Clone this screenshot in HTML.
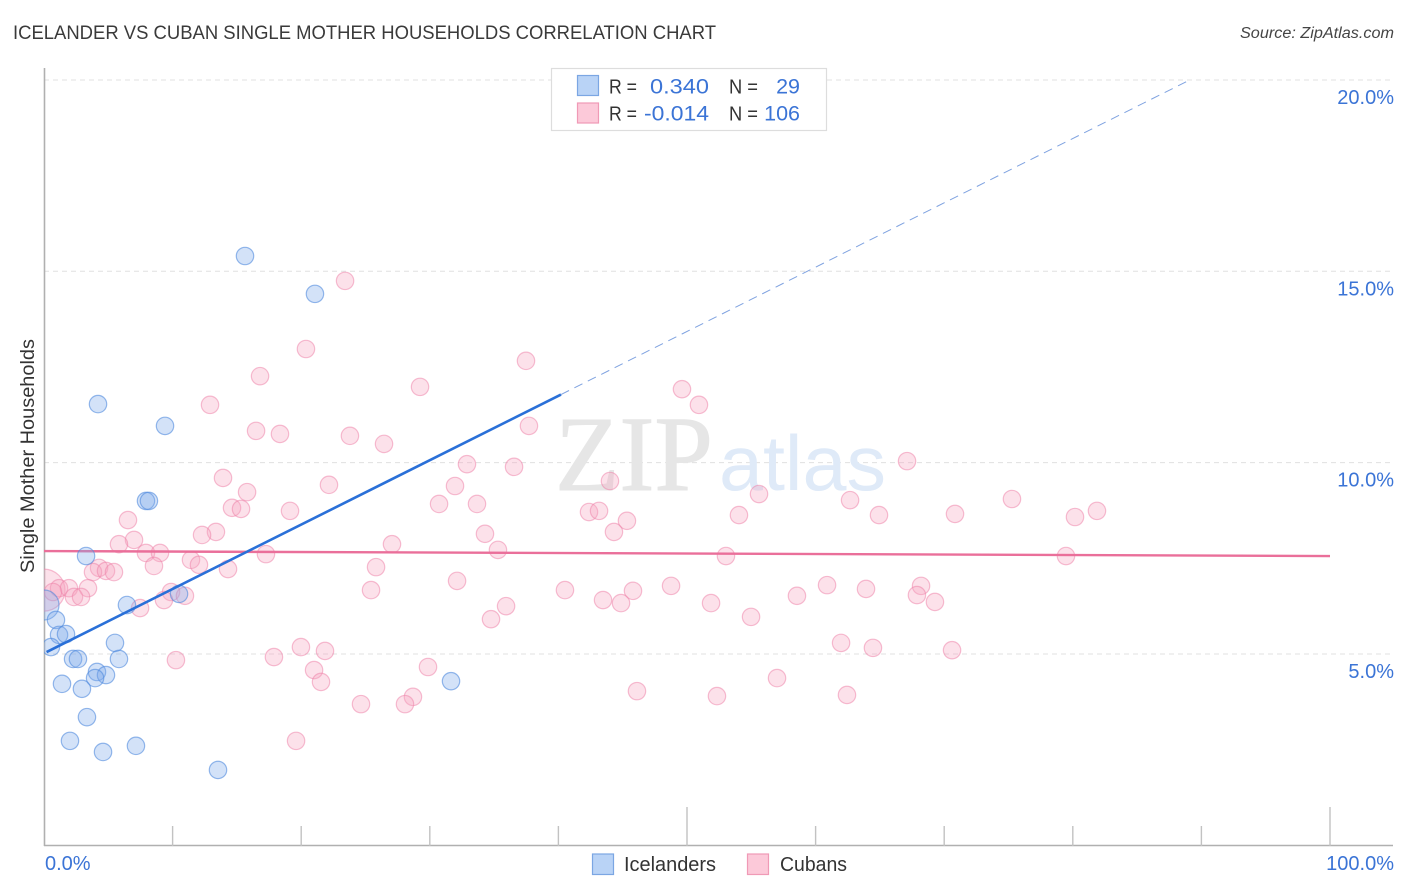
<!DOCTYPE html>
<html lang="en">
<head>
<meta charset="utf-8">
<title>Icelander vs Cuban Single Mother Households Correlation Chart</title>
<style>
html,body{margin:0;padding:0;background:#fff;}
body{width:1406px;height:892px;overflow:hidden;}
svg{display:block;}
text{font-family:"Liberation Sans",sans-serif;}
</style>
</head>
<body>
<svg id="chart" xmlns="http://www.w3.org/2000/svg" width="1406" height="892" viewBox="0 0 1406 892">
  <defs><clipPath id="plot-clip"><rect x="44" y="60" width="1349" height="786"/></clipPath></defs>
  <rect width="1406" height="892" fill="#fff"/>
  <text x="13" y="39" font-size="19" fill="#3a3a3a" textLength="703" lengthAdjust="spacingAndGlyphs">ICELANDER VS CUBAN SINGLE MOTHER HOUSEHOLDS CORRELATION CHART</text>
  <text x="1394" y="38" font-size="15.5" font-style="italic" fill="#444" text-anchor="end" textLength="154" lengthAdjust="spacingAndGlyphs">Source: ZipAtlas.com</text>
  <text transform="translate(34 573) rotate(-90)" font-size="19" fill="#333" textLength="234" lengthAdjust="spacingAndGlyphs">Single Mother Households</text>

  <g id="grid-layer"></g>
  <g>
    <text x="555" y="490" font-size="107" fill="#e6e6e6" stroke="#e6e6e6" stroke-width="1" style="font-family:'Liberation Serif',serif" textLength="158" lengthAdjust="spacingAndGlyphs">ZIP</text>
    <text x="719" y="490" font-size="78" fill="#dfeaf8" textLength="167" lengthAdjust="spacingAndGlyphs">atlas</text>
  </g>
  <g id="axis-layer"></g>
  <g id="marks-layer" clip-path="url(#plot-clip)"></g>
  <g id="label-layer"></g>

  <g>
    <rect x="551.5" y="68.5" width="275" height="62" fill="#fff" stroke="#ddd" stroke-width="1.2"/>
    <rect x="577.5" y="75.5" width="21" height="20" fill="#b9d3f6" stroke="#7ba6e3" stroke-width="1.2"/>
    <rect x="577.5" y="103" width="21" height="20" fill="#fcc9d9" stroke="#f09ab6" stroke-width="1.2"/>
    <text x="609" y="93.5" font-size="20" fill="#333" textLength="28" lengthAdjust="spacingAndGlyphs">R =</text>
    <text x="650" y="93.5" font-size="21.5" fill="#3b74d6" textLength="59" lengthAdjust="spacingAndGlyphs">0.340</text>
    <text x="729" y="93.5" font-size="20" fill="#333" textLength="29" lengthAdjust="spacingAndGlyphs">N =</text>
    <text x="800" y="93.5" font-size="21.5" fill="#3b74d6" text-anchor="end">29</text>
    <text x="609" y="120.5" font-size="20" fill="#333" textLength="28" lengthAdjust="spacingAndGlyphs">R =</text>
    <text x="644" y="120.5" font-size="21.5" fill="#3b74d6" textLength="65" lengthAdjust="spacingAndGlyphs">-0.014</text>
    <text x="729" y="120.5" font-size="20" fill="#333" textLength="29" lengthAdjust="spacingAndGlyphs">N =</text>
    <text x="800" y="120.5" font-size="21.5" fill="#3b74d6" text-anchor="end">106</text>
  </g>

  <g>
    <rect x="592.5" y="854" width="21" height="20.5" fill="#b9d3f6" stroke="#7ba6e3" stroke-width="1.2"/>
    <text x="624" y="871" font-size="20" fill="#333" textLength="92" lengthAdjust="spacingAndGlyphs">Icelanders</text>
    <rect x="747.5" y="854" width="21" height="20.5" fill="#fcc9d9" stroke="#f09ab6" stroke-width="1.2"/>
    <text x="780" y="871" font-size="20" fill="#333" textLength="67" lengthAdjust="spacingAndGlyphs">Cubans</text>
  </g>
</svg>
<script>
const icelanderX = [15.63,21.07,4.20,9.41,7.93,8.16,3.27,0.93,1.17,1.71,0.54,5.52,2.26,2.64,5.83,4.12,4.82,3.97,1.40,2.95,3.34,2.02,4.59,7.15,13.53,31.65,6.45,10.50];
const icelanderY = [15.40,14.41,11.53,10.96,9.00,9.00,7.56,5.89,5.50,5.52,5.18,5.29,4.87,4.87,4.87,4.53,4.45,4.37,4.22,4.09,3.35,2.73,2.44,2.60,1.97,4.29,6.28,6.57];
const icelanderLargeX = [0];
const icelanderLargeY = [6.28];
const cubanX = [23.41,20.37,37.48,16.80,29.24,49.61,12.91,50.93,37.71,16.49,18.35,23.79,26.44,32.89,36.55,67.11,13.92,44.01,22.16,31.96,15.79,55.60,62.68,75.27,30.72,33.67,14.62,15.32,19.13,42.38,43.16,64.93,54.04,70.84,81.88,80.17,45.33,6.53,44.32,34.29,13.37,12.29,7.00,5.83,27.06,7.93,9.02,35.30,17.26,53.03,79.47,11.43,12.05,8.55,25.82,14.31,4.28,3.81,4.82,5.44,32.12,48.76,60.89,68.20,63.92,40.51,45.80,25.43,1.17,1.94,3.42,58.55,67.88,0.70,2.33,2.88,9.88,10.96,9.33,7.47,43.47,44.87,51.87,69.28,35.93,34.76,54.98,61.98,64.46,70.61,19.98,21.85,10.26,17.88,21.00,29.86,21.54,46.11,52.33,57.00,62.44,24.65,28.69,28.07,19.60];
const cubanY = [14.75,12.97,12.66,12.26,11.98,11.92,11.51,11.51,10.96,10.83,10.75,10.70,10.49,9.96,9.89,10.04,9.60,9.52,9.42,9.39,9.23,9.18,9.02,9.05,8.92,8.92,8.82,8.79,8.74,8.71,8.74,8.63,8.63,8.66,8.74,8.58,8.48,8.50,8.19,8.14,8.19,8.11,7.98,7.87,7.87,7.64,7.64,7.72,7.61,7.56,7.56,7.46,7.33,7.30,7.27,7.22,7.25,7.14,7.17,7.14,6.91,6.78,6.80,6.78,6.70,6.67,6.65,6.67,6.72,6.72,6.72,6.52,6.54,6.62,6.49,6.49,6.62,6.52,6.41,6.20,6.41,6.33,6.33,6.36,6.25,5.91,5.97,5.29,5.16,5.10,5.18,5.08,4.84,4.92,4.58,4.66,4.27,4.03,3.90,4.37,3.93,3.69,3.88,3.69,2.73];
const cubanLargeX = [0];
const cubanLargeY = [6.67];
const icelanderTrendX = [0.2,40.2];
const icelanderTrendY = [5.05,11.78];
const icelanderProjectionX = [40.2,89.1];
const icelanderProjectionY = [11.78,20];
const cubanTrendX = [0,100];
const cubanTrendY = [7.69,7.56];
const xMinorTicks = [10,20,30,40,60,70,80,90];
const xMajorTicks = [50,100];
const yGridValues = [5,10,15,20];
const yTickLabels = ['5.0%','10.0%','15.0%','20.0%'];
const xTickValues = [0,100];
const xTickLabels = ['0.0%','100.0%'];

const NS = 'http://www.w3.org/2000/svg';
function xScale(v){ return 44 + v * 12.86; }
function yScale(v){ return 654 - (v - 5) * 38.27; }
function make(parent, tag, attrs){
  const el = document.createElementNS(NS, tag);
  for (const k in attrs) el.setAttribute(k, attrs[k]);
  parent.appendChild(el);
  return el;
}

const gridLayer = document.getElementById('grid-layer');
const axisLayer = document.getElementById('axis-layer');
const marksLayer = document.getElementById('marks-layer');
const labelLayer = document.getElementById('label-layer');

yGridValues.forEach(function(v){
  const el = make(gridLayer, 'line', {x1:44, x2:1393, y1:yScale(v), y2:yScale(v), stroke:'#e0e0e0', 'stroke-width':1, 'stroke-dasharray':'5 4'});
  
  
});

const yAxis = make(axisLayer, 'line', {x1:44.5, x2:44.5, y1:68, y2:846, stroke:'#b0b0b0', 'stroke-width':1.6});


const xAxis = make(axisLayer, 'line', {x1:44, x2:1393, y1:845.5, y2:845.5, stroke:'#b0b0b0', 'stroke-width':1.6});



xMinorTicks.forEach(function(v){
  const el = make(axisLayer, 'line', {x1:xScale(v), x2:xScale(v), y1:826, y2:846, stroke:'#c2c2c2', 'stroke-width':1.4});
  
  
});
xMajorTicks.forEach(function(v){
  const el = make(axisLayer, 'line', {x1:xScale(v), x2:xScale(v), y1:807, y2:846, stroke:'#c2c2c2', 'stroke-width':1.4});
  
  
});

function addCircle(x, y, r, fill, stroke, name){
  const c = make(marksLayer, 'circle', {cx:xScale(x), cy:yScale(y), r:r, fill:fill, stroke:stroke, 'stroke-width':1.2});
  
  
}
const cubanFill = 'rgba(246,165,192,0.33)';
const cubanStroke = 'rgba(238,130,168,0.52)';
const icelanderFill = 'rgba(125,170,235,0.34)';
const icelanderStroke = 'rgba(80,138,222,0.6)';

cubanLargeX.forEach(function(v, i){
  addCircle(v, cubanLargeY[i], 21, cubanFill, cubanStroke, 'point-cuban-large');
});
cubanX.forEach(function(v, i){
  addCircle(v, cubanY[i], 8.7, cubanFill, cubanStroke, 'point-cuban');
});

const cubanLine = make(marksLayer, 'line', {x1:xScale(cubanTrendX[0]), y1:yScale(cubanTrendY[0]), x2:xScale(cubanTrendX[1]), y2:yScale(cubanTrendY[1]), stroke:'#ea6f9a', 'stroke-width':2.4});



icelanderLargeX.forEach(function(v, i){
  addCircle(v, icelanderLargeY[i], 15, icelanderFill, icelanderStroke, 'point-icelander-large');
});
icelanderX.forEach(function(v, i){
  addCircle(v, icelanderY[i], 8.7, icelanderFill, icelanderStroke, 'point-icelander');
});

const blueLine = make(marksLayer, 'line', {x1:xScale(icelanderTrendX[0]), y1:yScale(icelanderTrendY[0]), x2:xScale(icelanderTrendX[1]), y2:yScale(icelanderTrendY[1]), stroke:'#2a70d8', 'stroke-width':2.6});


const blueDash = make(marksLayer, 'line', {x1:xScale(icelanderProjectionX[0]), y1:yScale(icelanderProjectionY[0]), x2:xScale(icelanderProjectionX[1]), y2:yScale(icelanderProjectionY[1]), stroke:'#7fa2e0', 'stroke-width':1, 'stroke-dasharray':'9 6'});



yGridValues.forEach(function(v, i){
  const t = make(labelLayer, 'text', {x:1394, y:yScale(v) + 24, 'font-size':20, fill:'#3b74d6', 'text-anchor':'end'});
  t.textContent = yTickLabels[i];
  
  
});
xTickValues.forEach(function(v, i){
  const anchor = v === 0 ? 'start' : 'end';
  const px = v === 0 ? 45 : 1394;
  const t = make(labelLayer, 'text', {x:px, y:870, 'font-size':20, fill:'#3b74d6', 'text-anchor':anchor});
  t.textContent = xTickLabels[i];
  
  
});
</script>
</body>
</html>
